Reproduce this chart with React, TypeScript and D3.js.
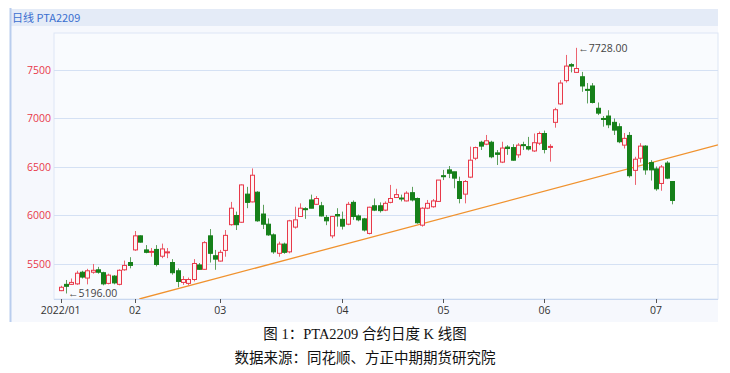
import React, { useRef, useEffect } from 'react';
import * as d3 from 'd3';

// daily OHLC (index = trading day)
const opens = [
  5225, 5290, 5290, 5295, 5415, 5355, 5415, 5440, 5410, 5300, 5375, 5290, 5440, 5515,
  5645, 5790, 5645, 5620, 5650, 5580, 5615, 5515, 5430, 5310, 5300, 5340, 5490, 5445, 5790, 5585,
  5530, 5640, 5905, 6000, 5930, 6220, 6140, 6240, 6015, 5910, 5800, 5610, 5705, 5625, 5880, 5990, 6070, 6160, 6115, 6100, 5980, 5790, 6010,
  5960, 5910, 6135, 5995, 5965, 5815, 6100, 6100, 6055, 6135, 6185, 6180, 6150, 6235, 6175, 5900, 6075, 6090, 6145,
  6410, 6470, 6450, 6350, 6220, 6395, 6590, 6755, 6735, 6755, 6645, 6550, 6705, 6700, 6625, 6730, 6710, 6665, 6745,
  6845, 6705, 6960, 7150, 7390, 7555, 7475, 7430, 7300, 7335, 7105, 7000, 7025, 6960, 6915, 6725, 6825, 6465, 6590, 6715, 6545,
  6480, 6330, 6540, 6350,
];
const highs = [
  5275, 5335, 5350, 5430, 5430, 5450, 5500, 5470, 5420, 5400, 5385, 5445, 5535, 5570,
  5840, 5795, 5695, 5665, 5695, 5710, 5665, 5550, 5455, 5375, 5360, 5550, 5510, 5735, 5860, 5645,
  5645, 5850, 6140, 6040, 6320, 6295, 6485, 6250, 6110, 5970, 5815, 5730, 5720, 5955, 6090, 6125, 6085, 6215, 6200, 6140, 6005, 5995, 6075,
  6040, 6140, 6155, 6010, 5975, 6090, 6175, 6135, 6145, 6315, 6275, 6215, 6250, 6295, 6185, 6085, 6160, 6170, 6365,
  6470, 6510, 6450, 6400, 6365, 6710, 6710, 6770, 6830, 6770, 6675, 6760, 6725, 6735, 6745, 6760, 6810, 6845, 6865,
  6875, 6735, 7110, 7395, 7655, 7570, 7728, 7480, 7365, 7365, 7165, 7025, 7085, 7000, 6950, 6850, 6860, 6605, 6745, 6725, 6570,
  6505, 6520, 6560, 6355,
];
const lows = [
  5220, 5196, 5285, 5285, 5350, 5290, 5400, 5400, 5280, 5290, 5290, 5280, 5430, 5455,
  5635, 5720, 5610, 5575, 5475, 5560, 5560, 5390, 5260, 5285, 5280, 5320, 5440, 5440, 5515, 5440,
  5525, 5575, 5895, 5850, 5925, 6075, 6135, 5935, 5860, 5790, 5605, 5575, 5605, 5610, 5865, 5985, 5965, 6075, 6110, 5990, 5900, 5765, 5885,
  5855, 5900, 5955, 5940, 5835, 5805, 6045, 6030, 6045, 6125, 6180, 6145, 6145, 6145, 5915, 5885, 6065, 6080, 6140,
  6365, 6385, 6280, 6125, 6125, 6385, 6570, 6675, 6725, 6590, 6520, 6540, 6625, 6565, 6595, 6675, 6670, 6655, 6725,
  6640, 6555, 6905, 7140, 7370, 7475, 7470, 7275, 7155, 7155, 7035, 6915, 6900, 6830, 6745, 6690, 6390, 6315, 6545, 6420, 6360,
  6255, 6255, 6375, 6115,
];
const closes = [
  5260, 5270, 5310, 5405, 5365, 5430, 5435, 5415, 5295, 5385, 5305, 5435, 5485, 5485,
  5790, 5725, 5620, 5630, 5495, 5655, 5625, 5410, 5320, 5340, 5340, 5505, 5445, 5720, 5610, 5550,
  5620, 5795, 6075, 5905, 6315, 6135, 6415, 5945, 5910, 5800, 5625, 5705, 5620, 5945, 5955, 6075, 6060, 6075, 6175, 5995, 5945, 5990, 5995,
  5890, 6115, 5990, 5955, 5850, 6085, 6055, 6050, 6125, 6175, 6215, 6170, 6230, 6160, 5925, 6075, 6125, 6150, 6365,
  6400, 6435, 6385, 6175, 6350, 6570, 6700, 6715, 6770, 6605, 6630, 6695, 6690, 6570, 6725, 6720, 6685, 6750, 6845,
  6680, 6712, 7090, 7365, 7540, 7540, 7515, 7335, 7295, 7165, 7055, 6990, 6935, 6880, 6760, 6795, 6410, 6580, 6715, 6470, 6470,
  6275, 6500, 6385, 6155,
];

const monthTickIdx = [0, 14, 30, 53, 72, 91, 112];
const monthLabels = ['2022/01', '02', '03', '04', '05', '06', '07'];
const yTicks = [5500, 6000, 6500, 7000, 7500];
const trendLine = [[14.8, 5139], [123.65, 6727]];
const minIdx = 1;
const maxIdx = 97;

const RED = '#e8394a';
const GREEN = '#16801a';

function App() {
  const svgRef = useRef(null);

  useEffect(() => {
    const svg = d3.select(svgRef.current);
    svg.selectAll('*').remove();

    const W = 730;
    const plot = { left: 54, right: 718, top: 33, bottom: 299 };

    const x = d3.scaleLinear().domain([-1.25, 123.65]).range([plot.left, plot.right]);
    const y = d3.scaleLinear().domain([5139, 7881]).range([plot.bottom, plot.top]);

    // panel
    svg.append('rect').attr('x', 10).attr('y', 9).attr('width', 708).attr('height', 313).attr('fill', '#f6f8fd');
    svg.append('rect').attr('x', 10).attr('y', 9).attr('width', 708).attr('height', 17).attr('fill', '#e4ebf7');
    svg.append('line').attr('x1', 10.5).attr('x2', 10.5).attr('y1', 8).attr('y2', 322)
      .attr('stroke', '#b9cdee').attr('stroke-width', 2);
    svg.append('text')
      .attr('x', 12).attr('y', 22)
      .attr('font-family', "'Noto Sans CJK SC', 'Noto Sans', sans-serif")
      .attr('font-size', 11)
      .attr('fill', '#3a6fd0')
      .text('日线 PTA2209');

    // plot area
    svg.append('rect')
      .attr('x', plot.left).attr('y', plot.top)
      .attr('width', plot.right - plot.left).attr('height', plot.bottom - plot.top)
      .attr('fill', '#f9fbfe').attr('stroke', '#dde6f5');

    svg.append('g')
      .selectAll('line')
      .data(yTicks)
      .join('line')
      .attr('x1', plot.left).attr('x2', plot.right)
      .attr('y1', d => Math.round(y(d)) + 0.5).attr('y2', d => Math.round(y(d)) + 0.5)
      .attr('stroke', '#d5e1f4');

    svg.append('g')
      .attr('font-family', "'Open Sans', 'Noto Sans', sans-serif")
      .attr('font-size', 10.5)
      .attr('fill', RED)
      .attr('text-anchor', 'end')
      .selectAll('text')
      .data(yTicks)
      .join('text')
      .attr('x', 51)
      .attr('y', d => y(d))
      .attr('dy', '0.35em')
      .text(d => d);

    // x axis
    svg.append('line').attr('x1', plot.left).attr('x2', plot.right)
      .attr('y1', plot.bottom + 0.5).attr('y2', plot.bottom + 0.5).attr('stroke', '#c9d8f0');
    const xa = svg.append('g');
    xa.selectAll('line')
      .data(monthTickIdx)
      .join('line')
      .attr('x1', d => Math.round(x(d)) + 0.5).attr('x2', d => Math.round(x(d)) + 0.5)
      .attr('y1', plot.bottom).attr('y2', plot.bottom + 4)
      .attr('stroke', '#555');
    xa.selectAll('text')
      .data(monthTickIdx)
      .join('text')
      .attr('x', d => x(d))
      .attr('y', 314)
      .attr('text-anchor', 'middle')
      .attr('font-family', "'Open Sans', 'Noto Sans', sans-serif")
      .attr('font-size', 10.5)
      .attr('fill', '#333')
      .text((d, i) => monthLabels[i]);

    // trend line
    const clip = svg.append('clipPath').attr('id', 'plotClip');
    clip.append('rect').attr('x', plot.left).attr('y', plot.top)
      .attr('width', plot.right - plot.left).attr('height', plot.bottom - plot.top);
    svg.append('path')
      .attr('clip-path', 'url(#plotClip)')
      .attr('d', d3.line().x(d => x(d[0])).y(d => y(d[1]))(trendLine))
      .attr('stroke', '#f0922e')
      .attr('stroke-width', 1.3)
      .attr('fill', 'none');

    // candles
    const idx = d3.range(opens.length);
    const bw = 4;
    const g = svg.append('g');
    g.selectAll('line.wick')
      .data(idx)
      .join('line')
      .attr('class', 'wick')
      .attr('x1', i => Math.round(x(i)) + 0.5).attr('x2', i => Math.round(x(i)) + 0.5)
      .attr('y1', i => y(highs[i])).attr('y2', i => y(lows[i]))
      .attr('stroke', i => closes[i] >= opens[i] ? '#ec6470' : '#5c9f5c')
      .attr('stroke-width', 1);
    g.selectAll('rect.body')
      .data(idx)
      .join('rect')
      .attr('class', 'body')
      .attr('x', i => Math.round(x(i)) + 0.5 - bw / 2)
      .attr('width', bw)
      .attr('y', i => y(Math.max(opens[i], closes[i])))
      .attr('height', i => Math.max(1, Math.abs(y(opens[i]) - y(closes[i]))))
      .attr('fill', i => closes[i] >= opens[i] ? '#fdf5f6' : GREEN)
      .attr('stroke', i => closes[i] >= opens[i] ? RED : GREEN)
      .attr('stroke-width', 1);

    // min / max markers
    const mark = (i, v) => svg.append('text')
      .attr('x', x(i) + 2).attr('y', y(v))
      .attr('dy', '0.35em')
      .attr('font-family', "'Open Sans', 'Noto Sans', sans-serif")
      .attr('font-size', 10.5)
      .attr('fill', '#444')
      .text('←' + v.toFixed(2));
    mark(minIdx, lows[minIdx]);
    mark(maxIdx, highs[maxIdx]);

    // captions
    const cap = svg.append('g')
      .attr('font-family', "'Liberation Serif', 'Noto Sans CJK SC', serif")
      .attr('font-size', 14.5)
      .attr('fill', '#111')
      .attr('text-anchor', 'middle');
    cap.append('text').attr('x', W / 2).attr('y', 339).text('图 1：PTA2209 合约日度 K 线图');
    cap.append('text').attr('x', W / 2).attr('y', 363).text('数据来源：同花顺、方正中期期货研究院');
  }, []);

  return (
    <svg ref={svgRef} width={730} height={373}
      style={{ position: 'absolute', left: 0, top: 0, background: '#fff' }} />
  );
}

export default App;
